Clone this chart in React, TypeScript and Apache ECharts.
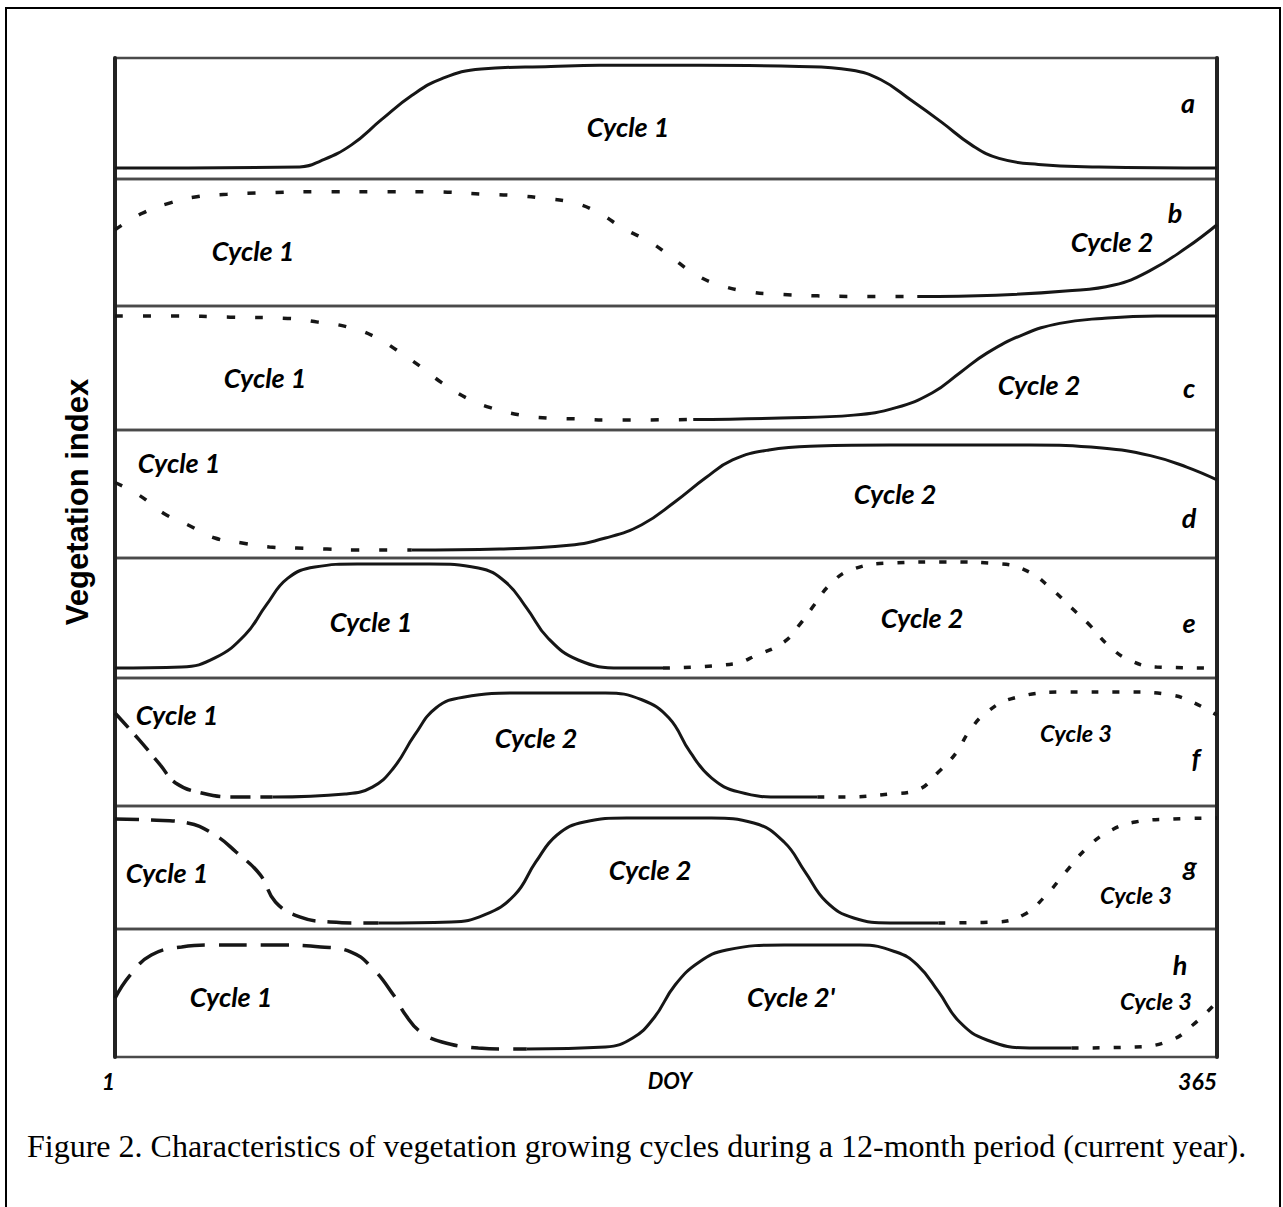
import React, { useEffect, useRef } from "react";
import * as echarts from "echarts";

// ---------- data (DOY, relative vegetation index within each panel) ----------
const panelNames = ["a", "b", "c", "d", "e", "f", "g", "h"];
const xTickValues = [1, 365];
const xAxisName = "DOY";
const yAxisTitle = "Vegetation index";
const caption =
  "Figure 2. Characteristics of vegetation growing cycles during a 12-month period (current year).";

const aCycle1 = [[1,0.09],[62,0.10],[69,0.15],[79,0.28],[89,0.49],[99,0.69],[109,0.83],[122,0.91],[145,0.93],[161,0.94],[194,0.94],[227,0.93],[244,0.9],[254,0.82],[264,0.65],[274,0.47],[284,0.28],[293,0.17],[306,0.12],[326,0.1],[365,0.09]];

const bCycle1 = [[1,0.6],[10,0.73],[19,0.81],[28,0.86],[38,0.88],[49,0.89],[67,0.9],[86,0.9],[104,0.9],[123,0.88],[133,0.87],[142,0.85],[153,0.81],[161,0.73],[169,0.61],[178,0.5],[185,0.38],[192,0.26],[200,0.17],[211,0.11],[219,0.094],[233,0.08],[247,0.075],[266,0.075]];
const bCycle2 = [[266,0.075],[292,0.085],[315,0.118],[331,0.165],[343,0.28],[355,0.46],[365,0.64]];

const cCycle1 = [[1,0.92],[20,0.92],[39,0.91],[58,0.9],[68,0.87],[78,0.83],[87,0.75],[94,0.645],[102,0.51],[109,0.38],[117,0.26],[125,0.18],[135,0.12],[144,0.097],[154,0.089],[163,0.081],[173,0.081],[192,0.085]];
const cCycle2 = [[192,0.085],[221,0.097],[245,0.12],[259,0.18],[271,0.3],[280,0.46],[289,0.62],[301,0.77],[313,0.86],[327,0.9],[345,0.92],[365,0.92]];

const dCycle1 = [[1,0.59],[9,0.49],[17,0.35],[25,0.26],[34,0.156],[43,0.117],[52,0.086],[61,0.078],[71,0.07],[80,0.0625],[90,0.0625],[99,0.0625]];
const dCycle2 = [[99,0.0625],[128,0.07],[151,0.1],[163,0.156],[175,0.26],[186,0.44],[196,0.625],[205,0.766],[217,0.844],[233,0.875],[257,0.883],[303,0.883],[327,0.86],[343,0.8],[355,0.71],[365,0.61]];

const eCycle1 = [[1,0.083],[23,0.092],[34,0.167],[44,0.36],[51,0.61],[58,0.83],[67,0.925],[81,0.95],[105,0.95],[121,0.917],[130,0.8],[137,0.583],[144,0.333],[154,0.15],[168,0.083],[182,0.083]];
const eCycle2 = [[182,0.083],[205,0.117],[213,0.19],[222,0.3],[227,0.44],[232,0.61],[237,0.775],[244,0.9],[257,0.958],[275,0.967],[294,0.95],[303,0.883],[310,0.75],[317,0.583],[323,0.44],[329,0.275],[336,0.15],[345,0.092],[365,0.083]];

const fCycle1 = [[1,0.727],[9,0.516],[16,0.32],[21,0.18],[30,0.1],[41,0.07],[53,0.07]];
const fCycle2 = [[53,0.07],[77,0.094],[86,0.148],[93,0.297],[100,0.555],[107,0.766],[116,0.85],[135,0.883],[163,0.883],[175,0.83],[184,0.6875],[191,0.42],[198,0.22],[207,0.11],[222,0.07],[233,0.07]];
const fCycle3 = [[233,0.07],[242,0.07],[257,0.094],[266,0.125],[273,0.266],[279,0.42],[283,0.578],[289,0.734],[298,0.844],[315,0.89],[336,0.89],[350,0.867],[357,0.81],[365,0.71]];

const gCycle1 = [[1,0.894],[13,0.886],[25,0.862],[34,0.764],[41,0.626],[49,0.44],[54,0.22],[62,0.098],[72,0.057],[84,0.049],[88,0.049]];
const gCycle2 = [[88,0.049],[112,0.057],[123,0.114],[133,0.276],[140,0.545],[147,0.764],[156,0.87],[170,0.902],[198,0.902],[212,0.862],[222,0.707],[229,0.463],[236,0.22],[245,0.089],[257,0.049],[273,0.049]];
const gCycle3 = [[273,0.049],[292,0.057],[301,0.114],[308,0.26],[315,0.463],[322,0.659],[329,0.789],[338,0.87],[350,0.894],[365,0.902]];

const hCycle1 = [[1,0.46],[6,0.64],[13,0.797],[23,0.86],[34,0.875],[53,0.875],[69,0.86],[79,0.82],[86,0.695],[93,0.484],[97,0.328],[102,0.195],[109,0.117],[121,0.07],[130,0.0625],[137,0.0625]];
const hCycle2 = [[137,0.0625],[163,0.078],[172,0.148],[179,0.305],[186,0.5625],[194,0.742],[203,0.836],[222,0.875],[247,0.875],[259,0.82],[266,0.72],[273,0.51],[280,0.273],[289,0.133],[303,0.07],[317,0.07]];
const hCycle3 = [[317,0.07],[338,0.078],[350,0.133],[357,0.25],[364,0.406]];

// ---------- styles / layout ----------
const DOT: number[] = [8, 20];
const DOT_SMALL: number[] = [7, 14];
const DASH_F: number[] = [20, 10];
const DASH_G: number[] = [24, 12];
const DASH_H: number[] = [28, 14];

const segments: { panel: number; data: number[][]; dash: number[] | "solid" }[] = [
  { panel: 0, data: aCycle1, dash: "solid" },
  { panel: 1, data: bCycle1, dash: DOT },
  { panel: 1, data: bCycle2, dash: "solid" },
  { panel: 2, data: cCycle1, dash: DOT },
  { panel: 2, data: cCycle2, dash: "solid" },
  { panel: 3, data: dCycle1, dash: DOT },
  { panel: 3, data: dCycle2, dash: "solid" },
  { panel: 4, data: eCycle1, dash: "solid" },
  { panel: 4, data: eCycle2, dash: DOT_SMALL },
  { panel: 5, data: fCycle1, dash: DASH_F },
  { panel: 5, data: fCycle2, dash: "solid" },
  { panel: 5, data: fCycle3, dash: DOT_SMALL },
  { panel: 6, data: gCycle1, dash: DASH_G },
  { panel: 6, data: gCycle2, dash: "solid" },
  { panel: 6, data: gCycle3, dash: DOT_SMALL },
  { panel: 7, data: hCycle1, dash: DASH_H },
  { panel: 7, data: hCycle2, dash: "solid" },
  { panel: 7, data: hCycle3, dash: DOT_SMALL },
];

const panelTops = [58, 179, 306, 430, 558, 678, 806, 929];
const panelBottom = 1057;
const plotLeft = 115;
const plotRight = 1217;
const W = 1283;
const H = 1207;

const labels: { t: string; x: number; y: number; s: number }[] = [
  { t: "Cycle 1", x: 628, y: 126, s: 27 },
  { t: "a", x: 1188, y: 102, s: 27 },
  { t: "Cycle 1", x: 253, y: 250, s: 27 },
  { t: "Cycle 2", x: 1112, y: 241, s: 27 },
  { t: "b", x: 1175, y: 212, s: 27 },
  { t: "Cycle 1", x: 265, y: 377, s: 27 },
  { t: "Cycle 2", x: 1039, y: 384, s: 27 },
  { t: "c", x: 1189, y: 387, s: 27 },
  { t: "Cycle 1", x: 179, y: 462, s: 27 },
  { t: "Cycle 2", x: 895, y: 493, s: 27 },
  { t: "d", x: 1189, y: 517, s: 27 },
  { t: "Cycle 1", x: 371, y: 621, s: 27 },
  { t: "Cycle 2", x: 922, y: 617, s: 27 },
  { t: "e", x: 1189, y: 622, s: 27 },
  { t: "Cycle 1", x: 177, y: 714, s: 27 },
  { t: "Cycle 2", x: 536, y: 737, s: 27 },
  { t: "Cycle 3", x: 1076, y: 733, s: 23.5 },
  { t: "f", x: 1196, y: 757, s: 27 },
  { t: "Cycle 1", x: 167, y: 872, s: 27 },
  { t: "Cycle 2", x: 650, y: 869, s: 27 },
  { t: "Cycle 3", x: 1136, y: 895, s: 23.5 },
  { t: "g", x: 1190, y: 865, s: 27 },
  { t: "Cycle 1", x: 231, y: 996, s: 27 },
  { t: "Cycle 2'", x: 791, y: 996, s: 27 },
  { t: "Cycle 3", x: 1156, y: 1001, s: 23.5 },
  { t: "h", x: 1180, y: 964, s: 27 },
];

const LABEL_FONT = "Lato";
const LINE_COLOR = "#161616";

export default function App() {
  const ref = useRef<HTMLDivElement>(null);
  useEffect(() => {
    if (!ref.current) return;
    const chart = echarts.init(ref.current, undefined, { renderer: "svg" });
    const n = panelNames.length;
    const grids: any[] = [];
    const xAxes: any[] = [];
    const yAxes: any[] = [];
    for (let i = 0; i < n; i++) {
      const top = panelTops[i];
      const bottom = i < n - 1 ? panelTops[i + 1] : panelBottom;
      grids.push({
        left: plotLeft,
        right: W - plotRight,
        top,
        height: bottom - top,
        show: true,
        borderColor: "#4a4a4a",
        borderWidth: 2.5,
        backgroundColor: "transparent",
      });
      const last = i === n - 1;
      xAxes.push({
        type: "value",
        gridIndex: i,
        min: 1,
        max: 365,
        show: last,
        name: last ? xAxisName : "",
        nameLocation: "middle",
        nameGap: 12,
        nameMoveOverlap: false,
        nameTextStyle: {
          fontFamily: LABEL_FONT,
          fontStyle: "italic",
          fontWeight: "bold",
          fontSize: 22,
          color: "#000",
          verticalAlign: "top",
          padding: [0, 0, 0, 8],
        },
        axisLine: { show: false },
        axisTick: { show: false },
        splitLine: { show: false },
        axisLabel: {
          show: last,
          customValues: xTickValues,
          margin: 12,
          fontFamily: LABEL_FONT,
          fontStyle: "italic",
          fontWeight: "bold",
          fontSize: 23,
          color: "#000",
          alignMinLabel: "right",
          alignMaxLabel: "right",
          formatter: (v: number) => String(v),
        },
      });
      yAxes.push({
        type: "value",
        gridIndex: i,
        min: 0,
        max: 1,
        position: "left",
        axisLine: { show: true, onZero: false, lineStyle: { color: "#222", width: 4 } },
        axisTick: { show: false },
        axisLabel: { show: false },
        splitLine: { show: false },
      });
      yAxes.push({
        type: "value",
        gridIndex: i,
        min: 0,
        max: 1,
        position: "right",
        axisLine: { show: true, onZero: false, lineStyle: { color: "#222", width: 4 } },
        axisTick: { show: false },
        axisLabel: { show: false },
        splitLine: { show: false },
      });
    }

    const series = segments.map((s) => ({
      type: "line",
      xAxisIndex: s.panel,
      yAxisIndex: s.panel * 2,
      data: s.data,
      smooth: 0.45,
      symbol: "none",
      silent: true,
      clip: false,
      lineStyle: {
        color: LINE_COLOR,
        width: s.dash === "solid" ? 3 : 3.5,
        type: s.dash,
        cap: "butt",
      },
      z: 3,
    }));

    const graphic: any[] = [
      {
        type: "rect",
        shape: { x: 6, y: 8, width: 1274, height: 1230 },
        style: { fill: "none", stroke: "#000", lineWidth: 2 },
        silent: true,
      },
      {
        type: "text",
        x: 77,
        y: 502,
        rotation: Math.PI / 2,
        style: {
          text: yAxisTitle,
          font: 'bold 31px "Liberation Sans", Arial, sans-serif',
          fill: "#000",
          textAlign: "center",
          textVerticalAlign: "middle",
          verticalAlign: "middle",
        },
      },
      {
        type: "text",
        x: 27,
        y: 1146,
        style: {
          text: caption,
          font: '32px "Liberation Serif", "Times New Roman", serif',
          fill: "#000",
          textAlign: "left",
          textVerticalAlign: "middle",
          verticalAlign: "middle",
        },
      },
      ...labels.map((l) => ({
        type: "text",
        x: l.x,
        y: l.y,
        style: {
          text: l.t,
          font: `italic bold ${l.s}px ${LABEL_FONT}`,
          fill: "#000",
          textAlign: "center",
          textVerticalAlign: "middle",
          verticalAlign: "middle",
        },
      })),
    ];

    chart.setOption({
      animation: false,
      backgroundColor: "#fff",
      grid: grids,
      xAxis: xAxes,
      yAxis: yAxes,
      series,
      graphic,
    });
    return () => chart.dispose();
  }, []);
  return (
    <div
      ref={ref}
      style={{ position: "fixed", left: 0, top: 0, width: W, height: H }}
    />
  );
}
